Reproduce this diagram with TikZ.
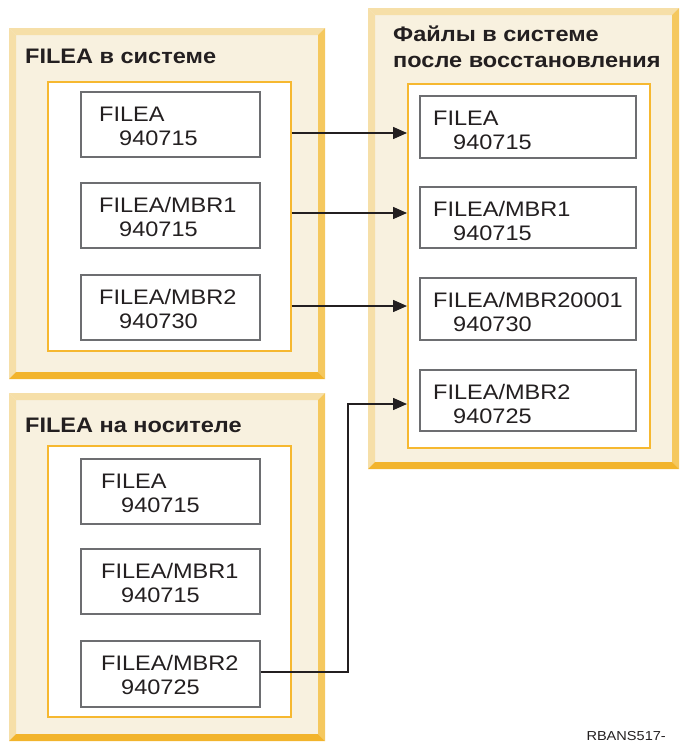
\documentclass[tikz,border=0pt]{standalone}
\usepackage{fontspec}
\setmainfont{Liberation Sans}[FakeStretch=1.12]
\usetikzlibrary{arrows.meta}

\definecolor{bevelL}{HTML}{F6DFA8}
\definecolor{bevelR}{HTML}{F5C85E}
\definecolor{bevelB}{HTML}{F2B42C}
\definecolor{panelfill}{HTML}{F8F1DF}
\definecolor{innerline}{HTML}{F6B830}
\definecolor{boxline}{HTML}{6D6E71}
\definecolor{ink}{HTML}{231F20}

\tikzset{
  inbox/.style={draw=innerline, line width=1.6pt, fill=white, anchor=north west, inner sep=0pt},
  fbx/.style={draw=boxline, line width=1.8pt, fill=white, anchor=north west, inner sep=0pt},
  txt/.style={inner sep=0pt, text=ink, font=\fontsize{21}{24}\selectfont},
  ttl/.style={inner sep=0pt, text=ink, anchor=base west, font=\fontsize{21}{26}\selectfont\bfseries},
  arr/.style={draw=ink, line width=1.5pt, -{Triangle[length=14pt,width=12pt]}},
  lnk/.style={draw=ink, line width=1.5pt}
}

% bevelled panel: corners (x1,y1) and (x2,y2), y grows downwards
\newcommand\bevelpanel[4]{%
  \fill[panelfill] (#1,#2) rectangle (#3,#4);
  \fill[bevelL] (#1,#2) -- (#3,#2) -- (#3-7,#2+7) -- (#1+7,#2+7) -- cycle;
  \fill[bevelL] (#1,#2) -- (#1+7,#2+7) -- (#1+7,#4-7) -- (#1,#4) -- cycle;
  \fill[bevelR] (#3,#2) -- (#3,#4) -- (#3-7,#4-7) -- (#3-7,#2+7) -- cycle;
  \fill[bevelB] (#1,#4) -- (#3,#4) -- (#3-7,#4-7) -- (#1+7,#4-7) -- cycle;
}

% file box: name, x, y, width, height, first line, second line, text inset
\newcommand\filebox[8]{%
  \node[fbx, minimum width=#4pt, minimum height=#5pt] (#1) at (#2,#3) {};
  \node[txt, anchor=base west] at ([xshift=#8pt, yshift=-30pt]#1.north west) {#6};
  \node[txt, anchor=base west] at ([xshift=#8pt+20pt, yshift=-54pt]#1.north west) {#7};
}

\begin{document}
\begin{tikzpicture}[x=1pt, y=-1pt]
\useasboundingbox (0,0) rectangle (680,742);

% panels
\bevelpanel{9}{28}{325}{379}
\bevelpanel{9}{393}{325}{741}
\bevelpanel{368}{8}{679}{469}

% titles
\node[ttl] (t1) at (25,63) {FILEA в системе};
\node[ttl] (t2) at (25,432) {FILEA на носителе};
\node[ttl] (t3a) at (393,41) {Файлы в системе};
\node[ttl] (t3b) at (393,67) {после восстановления};

% inner white frames
\node[inbox, minimum width=243pt, minimum height=269pt] (I1) at (47,81) {};
\node[inbox, minimum width=243pt, minimum height=271pt] (I2) at (47,445) {};
\node[inbox, minimum width=242pt, minimum height=364pt] (I3) at (407,83) {};

% files on the system
\filebox{a1}{80}{91}{179}{65}{FILEA}{940715}{19}
\filebox{a2}{80}{182}{179}{65}{FILEA/MBR1}{940715}{19}
\filebox{a3}{80}{274}{179}{65}{FILEA/MBR2}{940730}{19}

% files on the media
\filebox{b1}{80}{458}{179}{65}{FILEA}{940715}{21}
\filebox{b2}{80}{548}{179}{65}{FILEA/MBR1}{940715}{21}
\filebox{b3}{80}{640}{179}{66}{FILEA/MBR2}{940725}{21}

% files after restore
\filebox{c1}{419}{95}{216}{62}{FILEA}{940715}{14}
\filebox{c2}{419}{186}{216}{61}{FILEA/MBR1}{940715}{14}
\filebox{c3}{419}{277}{216}{62}{FILEA/MBR20001}{940730}{14}
\filebox{c4}{419}{369}{216}{61}{FILEA/MBR2}{940725}{14}

% connectors
\draw[arr] (I1.east |- 0,133) -- (I3.west |- 0,133);
\draw[arr] (I1.east |- 0,213) -- (I3.west |- 0,213);
\draw[arr] (I1.east |- 0,306) -- (I3.west |- 0,306);
\coordinate (bend) at (348,404);
\draw[arr] (b3.east |- 0,672) -| (bend) -- (I3.west |- bend);

% figure id
\node[inner sep=0pt, anchor=base east, text=ink, font=\fontsize{13}{14}\selectfont] (fid) at (666,740) {RBANS517-};
\end{tikzpicture}
\end{document}
